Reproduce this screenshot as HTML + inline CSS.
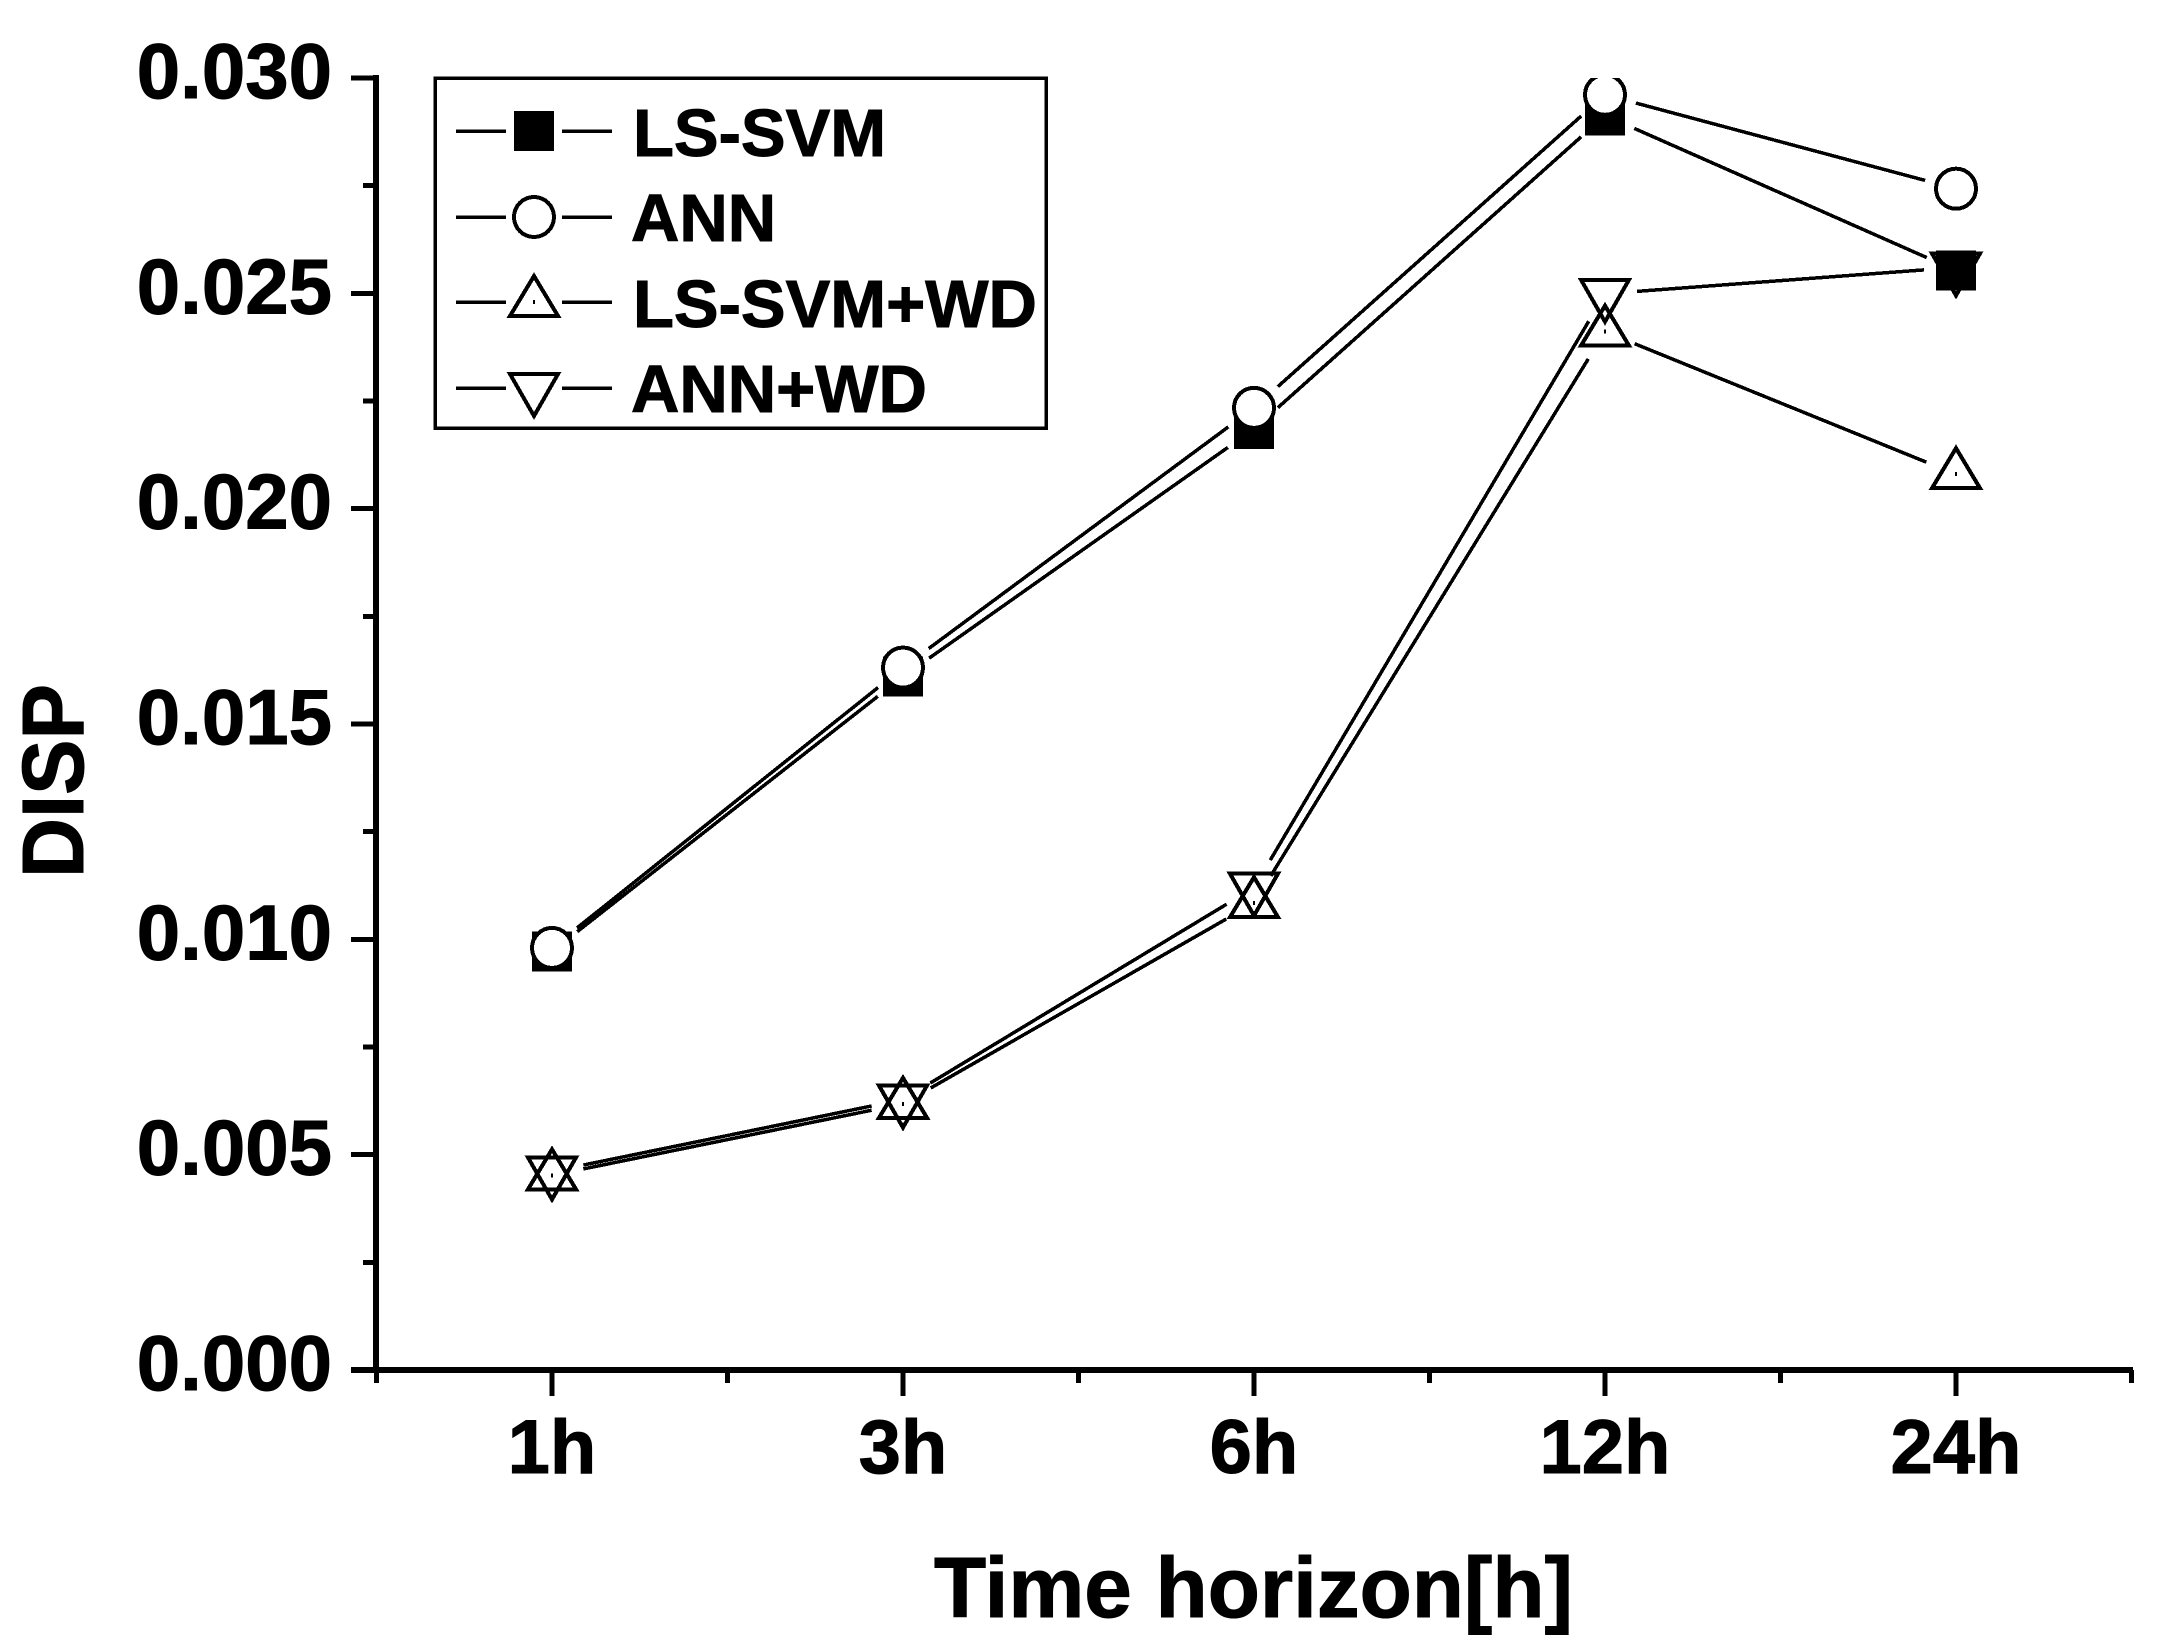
<!DOCTYPE html>
<html lang="en">
<head>
<meta charset="utf-8">
<title>DISP vs Time horizon</title>
<style>
  html, body { margin: 0; padding: 0; background: #fff; }
  svg { display: block; }
  text { font-family: "Liberation Sans", sans-serif; font-weight: 700; fill: #000; stroke: #000; stroke-width: 1; }
  line, rect, polygon, circle { shape-rendering: crispEdges; }
</style>
</head>
<body>
<svg id="chart" xmlns="http://www.w3.org/2000/svg" width="2161" height="1642" viewBox="0 0 2161 1642">
  <rect x="0" y="0" width="2161" height="1642" fill="#fff"/>
  <defs>
    <clipPath id="plot-clip"><rect x="376" y="78" width="1760" height="1292"/></clipPath>
  </defs>
  <g id="axes"></g>
  <g id="series" clip-path="url(#plot-clip)"></g>
  <text transform="translate(83,781) rotate(-90)" text-anchor="middle" font-size="87" textLength="194" lengthAdjust="spacingAndGlyphs">DISP</text>
  <text x="934" y="1617" font-size="85" textLength="639" lengthAdjust="spacingAndGlyphs">Time horizon[h]</text>
  <rect x="435" y="78" width="611" height="350" fill="#fff" stroke="#000" stroke-width="3.5"/>
  <g id="legend"></g>
</svg>
<script>
const categories = ['1h', '3h', '6h', '12h', '24h'];
const yTickLabels = ['0.000', '0.005', '0.010', '0.015', '0.020', '0.025', '0.030'];
const yTickValues = [0, 0.005, 0.01, 0.015, 0.02, 0.025, 0.03];
const yMinorValues = [0.0025, 0.0075, 0.0125, 0.0175, 0.0225, 0.0275];
const seriesNames = ['LS-SVM', 'ANN', 'LS-SVM+WD', 'ANN+WD'];
const lsSvm = [0.00972, 0.0161, 0.02185, 0.02913, 0.02553];
const ann = [0.0098, 0.01631, 0.02234, 0.02961, 0.02743];
const lsSvmWd = [0.00452, 0.00618, 0.01084, 0.02411, 0.0208];
const annWd = [0.00461, 0.00628, 0.0112, 0.02499, 0.0256];

const NS = 'http://www.w3.org/2000/svg';
const X0 = 552, XSTEP = 351, Y0 = 1370, YTOP = 78, YMAX = 0.03, GAP = 32;
function xScale(i) { return X0 + XSTEP * i; }
function yScale(v) { return Y0 - (v / YMAX) * (Y0 - YTOP); }

function make(tag, attrs, parent) {
  const node = document.createElementNS(NS, tag);
  for (const k in attrs) node.setAttribute(k, attrs[k]);
  parent.appendChild(node);
  return node;
}

const axes = document.getElementById('axes');
const seriesGroup = document.getElementById('series');
const legend = document.getElementById('legend');

/* axis lines */
const yLine = make('line', { x1: 376, y1: YTOP - 3, x2: 376, y2: Y0 + 3, stroke: '#000', 'stroke-width': 6 }, axes);


const xLine = make('line', { x1: 351, y1: Y0, x2: 2133, y2: Y0, stroke: '#000', 'stroke-width': 6 }, axes);



/* y ticks */
yTickValues.forEach(function (v, i) {
  const t = make('line', { x1: 351, y1: yScale(v), x2: 376, y2: yScale(v), stroke: '#000', 'stroke-width': 5 }, axes);
  
  
  const l = make('text', { x: 332, y: yScale(v) + 20, 'text-anchor': 'end', 'font-size': 78 }, axes);
  l.textContent = yTickLabels[i];
  
  
});
yMinorValues.forEach(function (v) {
  const t = make('line', { x1: 363, y1: yScale(v), x2: 376, y2: yScale(v), stroke: '#000', 'stroke-width': 5 }, axes);
  
  
});

/* x ticks */
categories.forEach(function (c, i) {
  const t = make('line', { x1: xScale(i), y1: Y0, x2: xScale(i), y2: Y0 + 26, stroke: '#000', 'stroke-width': 5 }, axes);
  
  
  const l = make('text', { x: xScale(i), y: 1473, 'text-anchor': 'middle', 'font-size': 76 }, axes);
  l.textContent = c;
  
  
});
for (let i = -0.5; i <= categories.length - 0.5; i += 1) {
  const t = make('line', { x1: xScale(i), y1: Y0, x2: xScale(i), y2: Y0 + 13, stroke: '#000', 'stroke-width': 5 }, axes);
  
  
}

/* markers */
function drawSquare(cx, cy, parent) {
  return make('rect', { x: cx - 20, y: cy - 20, width: 40, height: 40, fill: '#000' }, parent);
}
function drawCircle(cx, cy, parent) {
  return make('circle', { cx: cx, cy: cy, r: 20, fill: '#fff', stroke: '#000', 'stroke-width': 4 }, parent);
}
function drawUp(cx, cy, parent) {
  const p = (cx) + ',' + (cy - 26) + ' ' + (cx + 24) + ',' + (cy + 14) + ' ' + (cx - 24) + ',' + (cy + 14);
  make('rect', { x: cx - 1, y: cy - 2, width: 2, height: 4, fill: '#000' }, parent);
  return make('polygon', { points: p, fill: 'none', stroke: '#000', 'stroke-width': 4 }, parent);
}
function drawDown(cx, cy, parent) {
  const p = (cx) + ',' + (cy + 28) + ' ' + (cx + 24) + ',' + (cy - 14) + ' ' + (cx - 24) + ',' + (cy - 14);
  return make('polygon', { points: p, fill: 'none', stroke: '#000', 'stroke-width': 4 }, parent);
}

const seriesValues = [lsSvm, ann, lsSvmWd, annWd];
const seriesSlugs = ['ls-svm', 'ann', 'ls-svm-wd', 'ann-wd'];
const markerFns = [drawSquare, drawCircle, drawUp, drawDown];

seriesValues.forEach(function (values, s) {
  for (let i = 0; i < values.length - 1; i++) {
    const x1 = xScale(i), y1 = yScale(values[i]);
    const x2 = xScale(i + 1), y2 = yScale(values[i + 1]);
    const len = Math.hypot(x2 - x1, y2 - y1);
    const ux = (x2 - x1) / len, uy = (y2 - y1) / len;
    const seg = make('line', {
      x1: x1 + ux * GAP, y1: y1 + uy * GAP,
      x2: x2 - ux * GAP, y2: y2 - uy * GAP,
      stroke: '#000', 'stroke-width': 3.5
    }, seriesGroup);
    
    
  }
});
seriesValues.forEach(function (values, s) {
  values.forEach(function (v, i) {
    const m = markerFns[s](xScale(i), yScale(v), seriesGroup);
    
    
  });
});

/* legend */
const legendLineY = [131, 217, 302, 388];
const legendTextY = [156, 241, 327, 412];
const legendTextX = [633, 631, 633, 631];
seriesNames.forEach(function (name, s) {
  const a = make('line', { x1: 456, y1: legendLineY[s], x2: 506, y2: legendLineY[s], stroke: '#000', 'stroke-width': 3.5 }, legend);
  
  
  const b = make('line', { x1: 562, y1: legendLineY[s], x2: 612, y2: legendLineY[s], stroke: '#000', 'stroke-width': 3.5 }, legend);
  
  
  const m = markerFns[s](534, legendLineY[s], legend);
  
  
  const t = make('text', { x: legendTextX[s], y: legendTextY[s], 'font-size': 67 }, legend);
  t.textContent = name;
  
  
});
</script>
</body>
</html>
